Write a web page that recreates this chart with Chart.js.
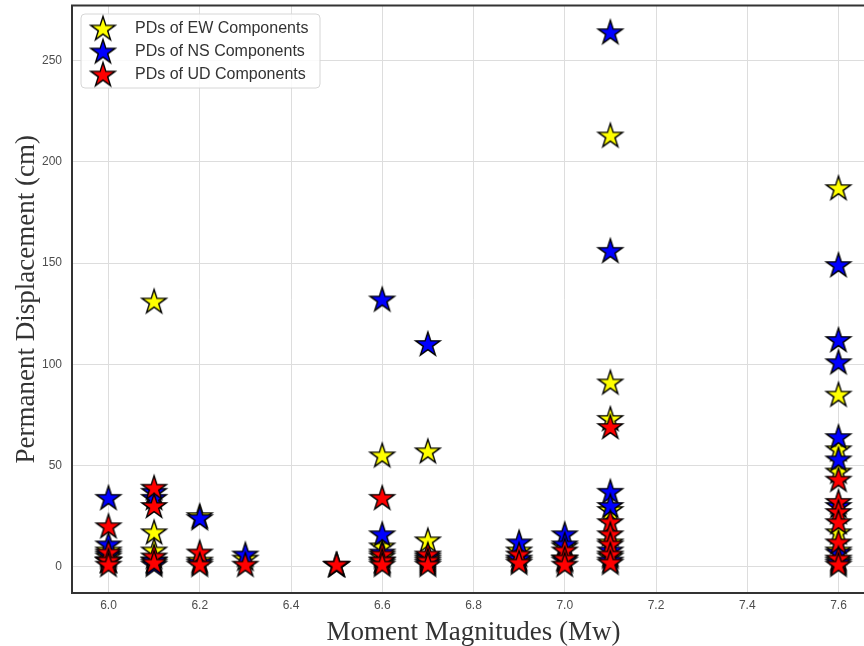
<!DOCTYPE html>
<html>
<head>
<meta charset="utf-8">
<script src="https://cdn.jsdelivr.net/npm/chart.js@4/dist/chart.umd.min.js"></script>
<style>
  html, body { margin: 0; padding: 0; background: #ffffff; overflow: hidden; width: 864px; height: 646px; }
  #wrap { width: 880px; height: 646px; }
</style>
</head>
<body>
<div id="wrap"><canvas id="c" width="880" height="646"></canvas></div>
<script>
// ---- data ----
const magnitudes = [6.0, 6.1, 6.2, 6.3, 6.5, 6.6, 6.7, 6.9, 7.0, 7.1, 7.6];
const ewValues = [
  [8, 5, 3],
  [131, 17, 8, 3],
  [25, 3],
  [4],
  [0.8],
  [55, 10, 5, 2],
  [57, 13, 4],
  [8, 3],
  [10, 4],
  [213, 91, 73, 28, 12, 5],
  [187, 85, 58, 47, 17, 8, 3]
];
const nsValues = [
  [34, 11, 6, 3],
  [37, 34, 3, 1],
  [24, 2],
  [6],
  [0.9],
  [132, 16, 7, 3],
  [110, 5, 2],
  [12, 4],
  [16, 11, 3],
  [264, 156, 37, 30, 8, 3],
  [149, 112, 101, 64, 53, 30, 7, 2]
];
const udValues = [
  [20, 7, 3, 1],
  [39, 30, 5, 2],
  [7, 1],
  [1],
  [1],
  [34, 6, 3, 1],
  [6, 3, 1],
  [6, 2],
  [8, 4, 1],
  [69, 22, 16, 11, 6, 2],
  [43, 32, 27, 22, 12, 4, 1]
];
const seriesLabels = ['PDs of EW Components', 'PDs of NS Components', 'PDs of UD Components'];
const seriesColors = ['#ffff00', '#0000ff', '#ff0000'];
const xTickValues = [6.0, 6.2, 6.4, 6.6, 6.8, 7.0, 7.2, 7.4, 7.6];
const xTickLabels = ['6.0', '6.2', '6.4', '6.6', '6.8', '7.0', '7.2', '7.4', '7.6'];
const yTickValues = [0, 50, 100, 150, 200, 250];
const yTickLabels = ['0', '50', '100', '150', '200', '250'];
const xTitle = 'Moment Magnitudes (Mw)';
const yTitle = 'Permanent Displacement (cm)';

// ---- star marker images ----
function makeStar(color) {
  const size = 30;
  const cv = document.createElement('canvas');
  cv.width = size; cv.height = size;
  const g = cv.getContext('2d');
  const cx = size / 2, cy = size / 2 + 0.8;
  const R = 12.8, r = R * 0.382;
  g.beginPath();
  for (let i = 0; i < 10; i++) {
    const ang = -Math.PI / 2 + i * Math.PI / 5;
    const rad = i % 2 === 0 ? R : r;
    const px = cx + rad * Math.cos(ang), py = cy + rad * Math.sin(ang);
    if (i === 0) g.moveTo(px, py); else g.lineTo(px, py);
  }
  g.closePath();
  g.fillStyle = color;
  g.fill();
  g.lineWidth = 1.4;
  g.lineJoin = 'miter';
  g.strokeStyle = '#000000';
  g.stroke();
  return cv;
}
const starImages = seriesColors.map(makeStar);

function toPoints(groups) {
  const pts = [];
  groups.forEach((vals, i) => vals.forEach(v => pts.push({ x: magnitudes[i], y: v })));
  return pts;
}
const allSeries = [ewValues, nsValues, udValues];

const datasets = allSeries.map((s, i) => ({
  label: seriesLabels[i],
  data: toPoints(s),
  pointStyle: starImages[i],
  pointRadius: 12,
  pointHoverRadius: 12,
  backgroundColor: seriesColors[i],
  borderColor: '#000000',
  order: 3 - i
}));

// ---- plugins: frame and legend inside plot ----
const framePlugin = {
  id: 'frame',
  afterDraw(chart) {
    const { ctx, chartArea: a } = chart;
    ctx.save();
    ctx.strokeStyle = '#333333';
    ctx.lineWidth = 2;
    ctx.strokeRect(a.left, a.top, a.right - a.left, a.bottom - a.top);
    ctx.restore();
  }
};
const legendPlugin = {
  id: 'innerLegend',
  afterDraw(chart) {
    const { ctx, chartArea: a } = chart;
    const x0 = a.left + 9, y0 = a.top + 8.5, w = 239, h = 74, rr = 4;
    ctx.save();
    ctx.beginPath();
    ctx.moveTo(x0 + rr, y0);
    ctx.lineTo(x0 + w - rr, y0);
    ctx.quadraticCurveTo(x0 + w, y0, x0 + w, y0 + rr);
    ctx.lineTo(x0 + w, y0 + h - rr);
    ctx.quadraticCurveTo(x0 + w, y0 + h, x0 + w - rr, y0 + h);
    ctx.lineTo(x0 + rr, y0 + h);
    ctx.quadraticCurveTo(x0, y0 + h, x0, y0 + h - rr);
    ctx.lineTo(x0, y0 + rr);
    ctx.quadraticCurveTo(x0, y0, x0 + rr, y0);
    ctx.closePath();
    ctx.fillStyle = 'rgba(255,255,255,0.85)';
    ctx.fill();
    ctx.strokeStyle = '#d6d6d6';
    ctx.lineWidth = 1;
    ctx.stroke();
    ctx.font = '16px "Liberation Sans", Arial, sans-serif';
    ctx.fillStyle = '#333333';
    ctx.textBaseline = 'middle';
    ctx.textAlign = 'left';
    chart.data.datasets.forEach((ds, i) => {
      const cy = y0 + 14.5 + i * 23;
      const img = ds.pointStyle;
      ctx.drawImage(img, x0 + 22 - img.width / 2, cy - img.height / 2);
      ctx.fillText(ds.label, x0 + 54, cy + 0.5);
    });
    ctx.restore();
  }
};

const tickFont = { family: '"Liberation Sans", Arial, sans-serif', size: 12 };
const titleFont = { family: '"Liberation Serif", "Times New Roman", serif', size: 27, lineHeight: 1.0 };

new Chart(document.getElementById('c'), {
  type: 'scatter',
  data: { datasets },
  options: {
    responsive: false,
    animation: false,
    layout: { autoPadding: false, padding: { top: 5.5, right: 5, left: 0, bottom: 0 } },
    plugins: {
      legend: { display: false },
      tooltip: { enabled: false }
    },
    scales: {
      x: {
        type: 'linear',
        min: 5.92,
        max: 7.68,
        afterBuildTicks(axis) { axis.ticks = xTickValues.map(v => ({ value: v })); },
        afterFit(axis) { axis.height = 53; axis.paddingLeft = 0; axis.paddingRight = 0; },
        ticks: {
          color: '#4d4d4d',
          font: tickFont,
          padding: 5,
          maxRotation: 0,
          callback(value, index) { return xTickLabels[index]; }
        },
        grid: { color: '#dddddd', lineWidth: 1, drawTicks: false },
        border: { display: false },
        title: { display: true, text: xTitle, color: '#333333', font: titleFont, padding: { top: 3, bottom: 0 } }
      },
      y: {
        type: 'linear',
        min: -13,
        max: 277.2,
        afterBuildTicks(axis) { axis.ticks = yTickValues.map(v => ({ value: v })); },
        afterFit(axis) { axis.width = 72; axis.paddingTop = 0; axis.paddingBottom = 0; },
        ticks: {
          color: '#4d4d4d',
          font: tickFont,
          padding: 10,
          callback(value, index) { return yTickLabels[index]; }
        },
        grid: { color: '#dddddd', lineWidth: 1, drawTicks: false },
        border: { display: false },
        title: { display: true, text: yTitle, color: '#333333', font: titleFont, padding: { top: 13, bottom: 0 } }
      }
    }
  },
  plugins: [framePlugin, legendPlugin]
});
</script>
</body>
</html>
